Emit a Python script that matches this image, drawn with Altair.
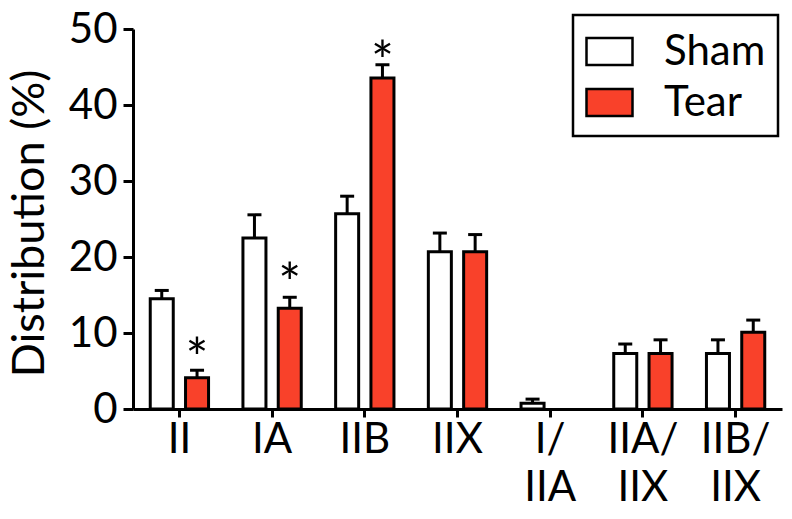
import altair as alt
import pandas as pd
import json

categories = ["II", "IA", "IIB", "IIX", "I/IIA", "IIA/IIX", "IIB/IIX"]
groups = ["Sham", "Tear"]
sham = [14.5, 22.5, 25.7, 20.7, 0.75, 7.3, 7.3]
sham_err = [1.1, 3.05, 2.3, 2.45, 0.55, 1.25, 1.8]
tear = [4.1, 13.25, 43.55, 20.7, None, 7.3, 10.1]
tear_err = [1.0, 1.45, 1.75, 2.25, None, 1.8, 1.6]
# significance marks on Tear bars (height of the asterisk)
tear_star = [8.4, 18.25, 47.5, None, None, None, None]

NB = "\u00a0"
label_lines = {
    "I/IIA": ["I/" + NB * 3, "IIA"],
    "IIA/IIX": ["IIA/", "IIX" + NB * 2],
    "IIB/IIX": ["IIB/", "IIX" + NB * 2],
}

rows = []
for i, c in enumerate(categories):
    rows.append(dict(cat=c, group="Sham", value=sham[i], err=sham_err[i], star=None))
    if tear[i] is not None:
        rows.append(dict(cat=c, group="Tear", value=tear[i], err=tear_err[i], star=tear_star[i]))
df = pd.DataFrame(rows)
df["top"] = df["value"] + df["err"]

RED = "#F9412A"
FONT = "Lato"
FS = 42

expr = "datum.label"
for k, v in label_lines.items():
    expr = f"datum.label == {json.dumps(k)} ? {json.dumps(v)} : ({expr})"

x = alt.X("cat:N", sort=categories,
          scale=alt.Scale(paddingInner=0.371, paddingOuter=0.186),
          axis=alt.Axis(title=None, labelAngle=0, tickSize=8, labelPadding=2,
                        labelBaseline="top", labelLineHeight=48, labelExpr=expr))
xo = alt.XOffset("group:N", sort=groups, scale=alt.Scale(paddingInner=0.348, paddingOuter=0))
y = alt.Y("value:Q", scale=alt.Scale(domain=[0, 50], nice=False),
          axis=alt.Axis(values=[0, 10, 20, 30, 40, 50], title="Distribution (%)",
                        tickSize=10, labelPadding=6,
                        titleFontSize=45, titleFontWeight="normal", titleFont=FONT,
                        titleAngle=-90, titleX=-104, titleY=194,
                        titleAlign="center", titleBaseline="middle", titleColor="black"))

base = alt.Chart(df)

bars = base.mark_bar(stroke="black", strokeWidth=3).encode(
    x=x, xOffset=xo, y=y,
    fill=alt.Fill("group:N", sort=groups,
                  scale=alt.Scale(domain=groups, range=["white", RED]),
                  legend=alt.Legend(title=None)),
)

err = base.mark_rule(color="black", strokeWidth=3).encode(
    x=x, xOffset=xo, y="value:Q", y2="top:Q")

cap = base.mark_tick(color="black", thickness=3, size=14, opacity=1).encode(
    x=x, xOffset=xo, y="top:Q")

stars = base.transform_filter("isValid(datum.star)").mark_text(
    text="*", fontSize=54, font=FONT, baseline="alphabetic", dy=32, color="black"
).encode(x=x, xOffset=xo, y="star:Q")

chart = alt.layer(bars, err, cap, stars).properties(
    width=649, height=380,
    padding={"left": 125, "top": 21, "right": 2, "bottom": 100},
    autosize=alt.AutoSizeParams(type="none"),
).configure_view(stroke=None).configure_axis(
    domainColor="black", domainWidth=3, tickColor="black", tickWidth=3,
    labelFont=FONT, labelFontSize=FS, labelColor="black", grid=False,
).configure_legend(
    orient="none", legendX=440, legendY=-14,
    strokeColor="black", strokeWidth=2.5, padding=12,
    symbolType="M-1,-0.587H1V0.587H-1Z", symbolSize=2116,
    symbolStrokeColor="black", symbolStrokeWidth=2.5, symbolOpacity=1,
    labelFont=FONT, labelFontSize=FS, labelColor="black", labelOffset=30,
    rowPadding=5, labelLimit=300,
)

chart.save("out.html", embed_options={"renderer": "svg", "actions": False})
